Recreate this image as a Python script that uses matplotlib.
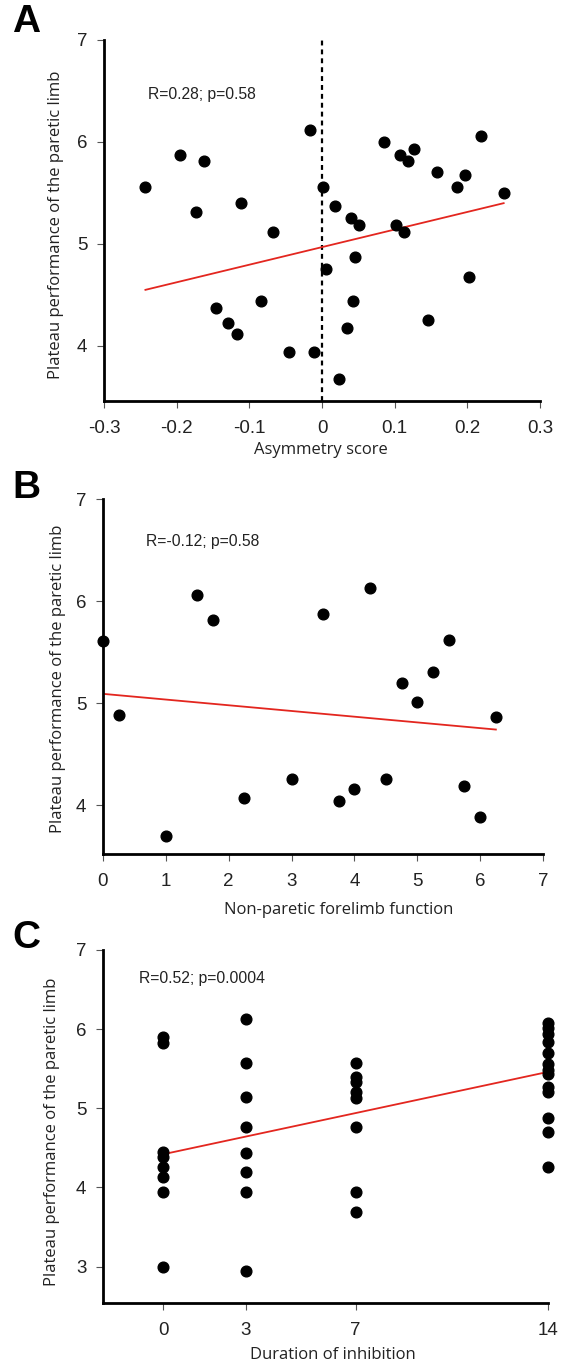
import matplotlib
matplotlib.use('Agg')
import matplotlib.pyplot as plt

# panel A: asymmetry score vs plateau performance
asym_x = [-0.243, -0.196, -0.162, -0.017, 0.001, 0.085, 0.107, 0.119, 0.127, 0.158,
          0.186, 0.197, 0.219, 0.25, -0.173, -0.112, -0.067, 0.018, 0.040, 0.051,
          0.102, 0.113, 0.046, 0.006, 0.202, -0.146, -0.084, -0.129, -0.117, 0.042,
          0.034, 0.146, -0.045, -0.011, 0.023]
asym_y = [5.56, 5.87, 5.81, 6.12, 5.56, 6.00, 5.87, 5.81, 5.93, 5.71,
          5.56, 5.68, 6.06, 5.50, 5.31, 5.40, 5.12, 5.37, 5.25, 5.19,
          5.19, 5.12, 4.87, 4.75, 4.68, 4.37, 4.44, 4.22, 4.12, 4.44,
          4.18, 4.25, 3.94, 3.94, 3.68]
fit_a_x = [-0.243, 0.25]
fit_a_y = [4.55, 5.40]

# panel B: non-paretic forelimb function
nonpar_x = [0, 1.5, 1.75, 3.5, 4.25, 5.5, 0.25, 4.75, 5.25, 5.0,
            6.25, 3.0, 2.25, 3.75, 4.0, 4.5, 5.75, 6.0, 1.0]
nonpar_y = [5.61, 6.06, 5.81, 5.87, 6.13, 5.62, 4.88, 5.20, 5.30, 5.01,
            4.86, 4.26, 4.07, 4.04, 4.16, 4.26, 4.19, 3.88, 3.70]
fit_b_x = [0, 6.25]
fit_b_y = [5.09, 4.74]

# panel C: duration of inhibition (days)
dur_x = [0] * 8 + [3] * 8 + [7] * 8 + [14] * 13
dur_y = [5.90, 5.83, 4.45, 4.39, 4.26, 4.13, 3.94, 3.00,
         6.13, 5.57, 5.14, 4.76, 4.44, 4.19, 3.94, 2.94,
         5.57, 5.39, 5.33, 5.20, 5.13, 4.76, 3.94, 3.69,
         6.08, 6.01, 5.94, 5.84, 5.70, 5.56, 5.49, 5.43, 5.27, 5.20, 4.88, 4.70, 4.26]
fit_c_x = [0, 14]
fit_c_y = [4.42, 5.46]

stats = ['R=0.28; p=0.58', 'R=-0.12; p=0.58', 'R=0.52; p=0.0004']
xlabels = ['Asymmetry score', 'Non-paretic forelimb function', 'Duration of inhibition']
ylabel = 'Plateau performance of the paretic limb'

W, H = 565, 1366
fig = plt.figure(figsize=(W / 100, H / 100), dpi=100)

def px_axes(left, right, top, bottom):
    return fig.add_axes([left / W, 1 - bottom / H, (right - left) / W, (bottom - top) / H])

tick_font = 'Liberation Sans'
label_font = 'Open Sans'

def style(ax, xticks, xticklabels, yticks, xlim, ylim):
    ax.set_xlim(*xlim)
    ax.set_ylim(*ylim)
    for s in ['top', 'right']:
        ax.spines[s].set_visible(False)
    for s in ['left', 'bottom']:
        ax.spines[s].set_linewidth(2.0)
        ax.spines[s].set_capstyle('projecting')
    ax.set_xticks(xticks)
    ax.set_xticklabels(xticklabels)
    ax.set_yticks(yticks)
    ax.tick_params(direction='out', length=5, width=0.8, color='#555555',
                   labelsize=13.5, pad=7)
    ax.tick_params(axis='x', pad=9)
    for lab in ax.get_xticklabels() + ax.get_yticklabels():
        lab.set_fontfamily(tick_font)
        lab.set_color('#222222')
    ax.patch.set_alpha(0)

dot = dict(marker='o', ls='none', color='black', markersize=7.7)
red = dict(color='#e3261f', lw=1.3)

# A
axA = px_axes(104, 540, 40, 401)
style(axA, [-0.3, -0.2, -0.1, 0, 0.1, 0.2, 0.3],
      ['-0.3', '-0.2', '-0.1', '0', '0.1', '0.2', '0.3'],
      [4, 5, 6, 7], (-0.3, 0.3), (3.46, 7))
axA.plot([0, 0], [3.46, 7], color='black', lw=1.6, ls=(0, (2.2, 1.8)), zorder=1)
axA.plot(fit_a_x, fit_a_y, zorder=2, **red)
axA.plot(asym_x, asym_y, zorder=3, clip_on=False, **dot)

# B
axB = px_axes(103, 543, 499, 854)
style(axB, range(8), [str(i) for i in range(8)], [4, 5, 6, 7], (0, 7), (3.52, 7))
axB.plot(fit_b_x, fit_b_y, zorder=2, **red)
axB.plot(nonpar_x, nonpar_y, zorder=3, clip_on=False, **dot)

# C
axC = px_axes(103, 548, 950, 1303)
style(axC, [0, 3, 7, 14], ['0', '3', '7', '14'], [3, 4, 5, 6, 7], (-2.2, 14), (2.54, 7))
axC.plot(fit_c_x, fit_c_y, zorder=2, **red)
axC.plot(dur_x, dur_y, zorder=3, clip_on=False, **dot)

# stats text
for ax, txt, (tx, ty) in zip([axA, axB, axC], stats,
                             [(0.101, 0.85), (0.098, 0.88), (0.081, 0.92)]):
    ax.text(tx, ty, txt, transform=ax.transAxes, ha='left', va='center',
            fontsize=11.3, family=tick_font, color='#222222')

# axis labels in figure pixel coords
for (cx, cy), txt in zip([(321, 450), (339, 910), (333, 1355)], xlabels):
    fig.text(cx / W, 1 - cy / H, txt, ha='center', va='center', fontsize=12,
             family=label_font, color='#222222')
for (cx, cy) in [(56, 225), (58, 679), (52, 1132)]:
    fig.text(cx / W, 1 - cy / H, ylabel, ha='center', va='center', rotation=90,
             fontsize=12, family=label_font, color='#222222')

# panel letters
for (cx, cy), letter in zip([(26, 22), (26, 488), (26, 938)], ['A', 'B', 'C']):
    fig.text(cx / W, 1 - cy / H, letter, ha='center', va='center', fontsize=28,
             fontweight='bold', family=tick_font)

fig.savefig('out.png', dpi=100)
